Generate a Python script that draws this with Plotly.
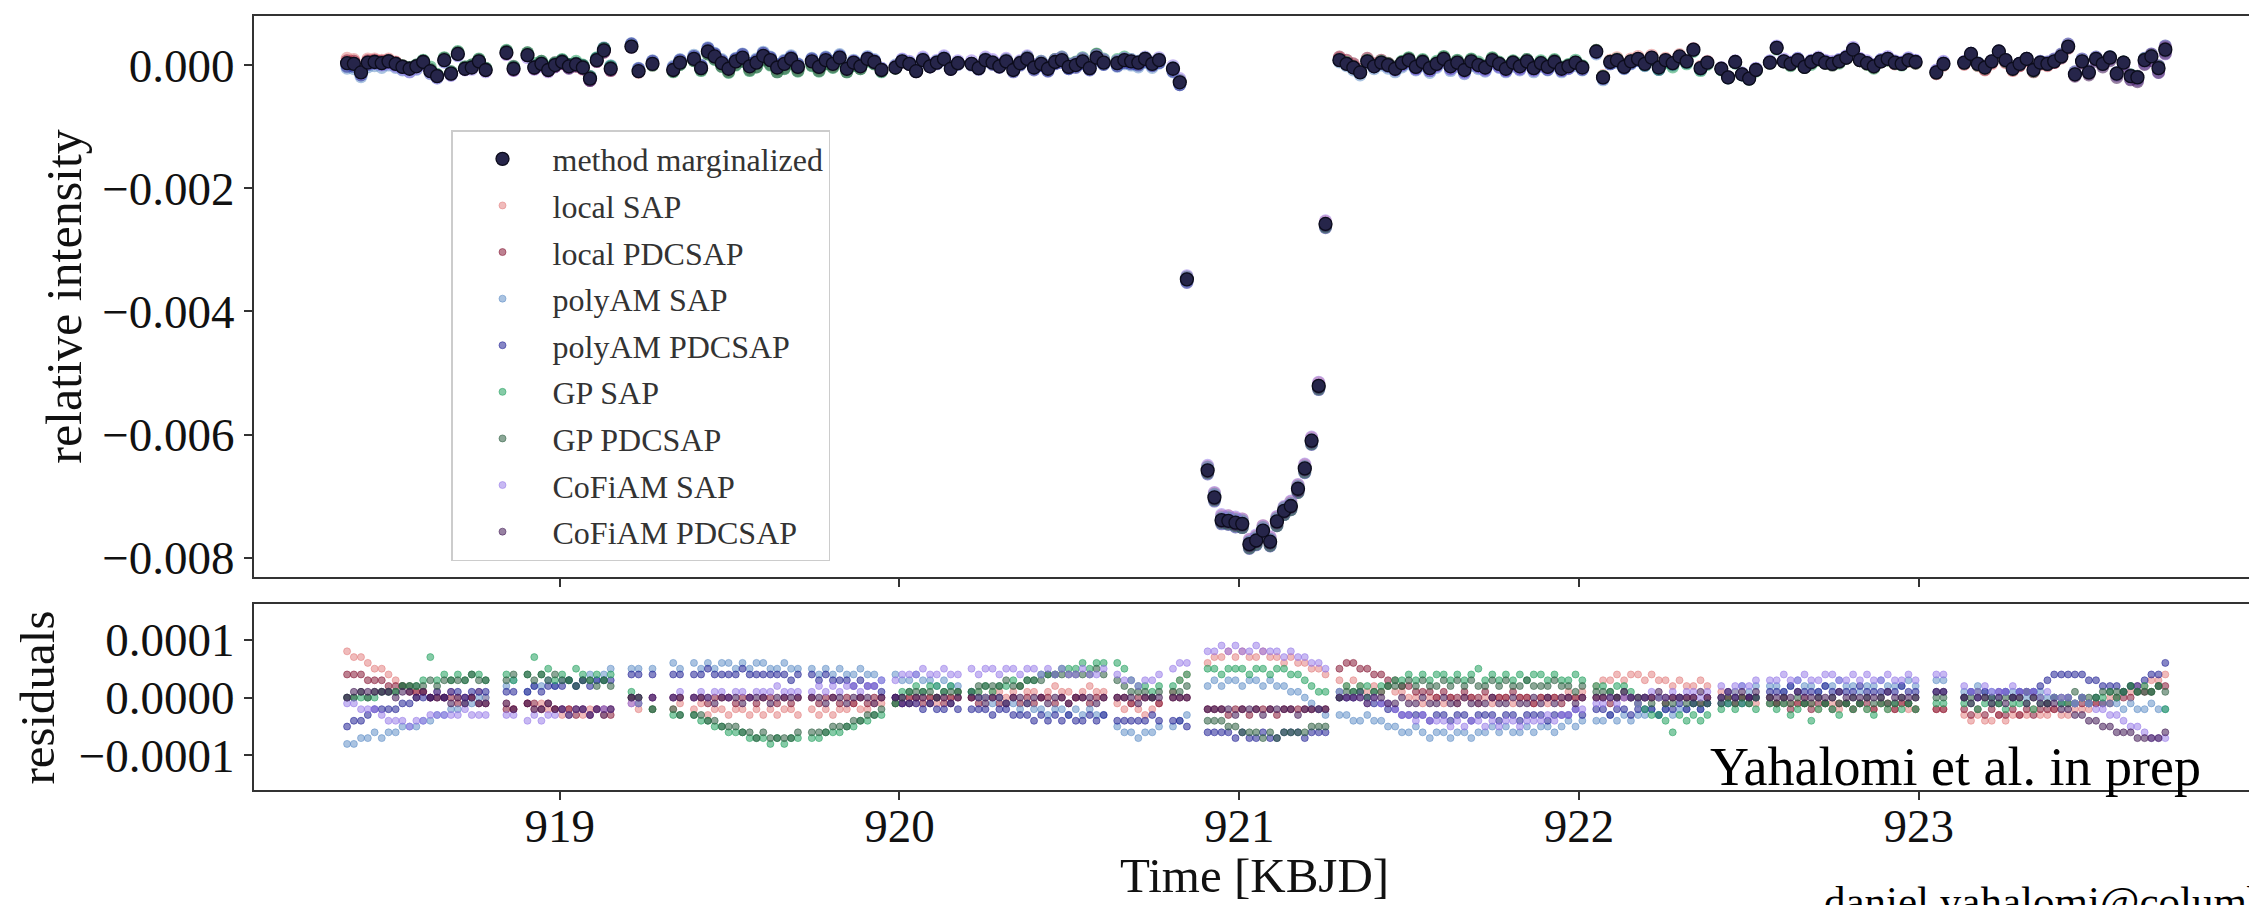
import numpy as np
import plotly.graph_objects as go

# ---------------- data ----------------
# Time stamps [KBJD], grouped into the observing runs visible in the chart
TIME_SEGMENTS = [
    [918.374, 918.394, 918.415, 918.435, 918.455, 918.476, 918.496, 918.517, 918.537, 918.558, 918.578,
     918.598, 918.619, 918.639, 918.660, 918.680, 918.700, 918.721, 918.741, 918.762, 918.782],
    [918.843, 918.864],
    [918.905, 918.925, 918.946, 918.966, 918.986, 919.007, 919.027, 919.048, 919.068, 919.089, 919.109,
     919.130, 919.150],
    [919.211, 919.232],
    [919.273],
    [919.334, 919.354],
    [919.395, 919.416, 919.436, 919.456, 919.477, 919.497, 919.518, 919.538, 919.559, 919.579, 919.599,
     919.620, 919.640, 919.661, 919.681, 919.701],
    [919.742, 919.763, 919.783, 919.804, 919.824, 919.845, 919.865, 919.885, 919.906, 919.926, 919.947],
    [919.988, 920.008, 920.029, 920.049, 920.069, 920.090, 920.110, 920.131, 920.151, 920.172],
    [920.212, 920.233, 920.253, 920.274, 920.294, 920.314, 920.335, 920.355, 920.376, 920.396, 920.417,
     920.437, 920.458, 920.478, 920.498, 920.519, 920.539, 920.560, 920.580, 920.601],
    [920.641, 920.662, 920.682, 920.703, 920.723, 920.744, 920.764],
    [920.805, 920.825, 920.846],
    [920.907, 920.927, 920.948, 920.968, 920.989, 921.009, 921.030, 921.050, 921.070, 921.091, 921.111,
     921.132, 921.152, 921.173, 921.193, 921.213, 921.234, 921.254],
    [921.295, 921.316, 921.336, 921.356, 921.377, 921.397, 921.418, 921.438, 921.459, 921.479, 921.499,
     921.520, 921.540, 921.561, 921.581, 921.602, 921.622, 921.642, 921.663, 921.683, 921.704, 921.724,
     921.745, 921.765, 921.785, 921.806, 921.826, 921.847, 921.867, 921.888, 921.908, 921.928, 921.949,
     921.969, 921.990, 922.010],
    [922.051, 922.071, 922.092, 922.112, 922.133, 922.153, 922.174, 922.194, 922.214, 922.235, 922.255,
     922.276, 922.296, 922.317, 922.337, 922.358, 922.378],
    [922.419, 922.439, 922.460, 922.480, 922.501, 922.521],
    [922.562, 922.582, 922.603, 922.623, 922.644, 922.664, 922.684, 922.705, 922.725, 922.746, 922.766,
     922.787, 922.807, 922.827, 922.848, 922.868, 922.889, 922.909, 922.930, 922.950, 922.970, 922.991],
    [923.052, 923.073],
    [923.134, 923.154, 923.174, 923.195, 923.215, 923.236, 923.256, 923.277, 923.297, 923.318, 923.338,
     923.358, 923.379, 923.399, 923.420, 923.440, 923.460, 923.481, 923.501, 923.522, 923.542, 923.563,
     923.583, 923.603, 923.624, 923.644, 923.665, 923.685, 923.706, 923.726],
]

# method-marginalized relative intensity, units of 1e-5
MARG = [
    [3, 2, -12, 4, 5, 3, 6, 2, -3, -6, -2, 5, -10, -18, 8, -14, 18, -6, -4, 6, -8],
    [20, -6],
    [16, -4, 2, -8, 0, 5, -2, 1, -4, -22, 8, 24, -6],
    [30, -10],
    [2],
    [-8, 4],
    [10, -5, 22, 14, 3, -6, 6, 12, -2, 4, 15, 8, -4, 2, 10, -3],
    [6, -3, 8, 2, 12, -6, 4, -2, 10, 5, -8],
    [-4, 6, 2, -10, 8, -2, 4, 10, -6, 3],
    [2, -5, 8, 4, -2, 6, -8, 3, 10, -4, 2, -6, 5, 8, -3, 0, 6, -5, 12, 4],
    [3, 8, 6, 4, 10, 2, 8],
    [-6, -28, -348],
    [-658, -702, -739, -740, -743, -745, -778, -772, -756, -774, -741, -724, -716, -688, -655, -610, -521, -258],
    [8, 2, -4, -12, 6, -2, 4, 0, -6, 3, 8, -3, 5, -5, 2, 10, -2, 4, -8, 6, 0, -4, 8, 2, -6, 4, -2, 6,
     -5, 3, -3, 5, -6, -2, 4, -4],
    [22, -20, 5, 8, -3, 6, 10, 2, 12, -4, 8, 3, 14, 6, 25, -5, 4],
    [-6, -20, 5, -15, -22, -8],
    [4, 28, 6, 2, 8, -3, 5, 10, 4, 2, 6, 12, 25, 8, 3, -2, 6, 10, 4, 2, 8, 5],
    [-12, 2],
    [4, 18, 2, -4, 6, 22, 8, -6, 2, 10, -8, 4, 2, 6, 14, 30, -15, 6, -12, 10, 2, 12, -14, 4, -18, -20,
     8, 14, -5, 25],
]
MARG_ERR = 0.00005

# residuals (method - marginalized), units of 1e-5
LOCAL_SAP = [
    [8, 7, 7, 6, 5, 5, 4, 3, 2, 2, 1, 1, 0, 1, 0, 1, 0, -1, 0, 1, 0],
    [-1, -2],
    [-1, -2, -1, -2, -2, -3, -2, -2, -3, -2, -2, -3, -2],
    [-1, -2],
    [-2],
    [-2, -1],
    [-2, -1, -3, -2, -2, -3, -2, -2, -3, -2, -3, -2, -3, -2, -2, -3],
    [-2, -3, -2, -3, -2, -2, -1, -2, -2, -1, -1],
    [-1, -1, 0, -1, 0, 0, -1, 0, 0, 1],
    [0, 1, 0, 1, 1, 0, 1, 2, 1, 1, 0, 1, 2, 1, 1, 0, 1, 2, 1, 1],
    [-1, -2, -1, -2, -3, -2, -1],
    [1, 3, 4],
    [6, 7, 7, 8, 7, 8, 7, 7, 8, 7, 7, 6, 7, 6, 6, 5, 5, 4],
    [3, 2, 3, 2, 1, 2, 1, 2, 1, 1, 0, 0, -1, 0, 0, -1, 0, -1, 0, 0, -1, 0, -1, 0, 0, -1, 0, 0, -1, 0,
     -1, 0, 0, 1, 0, 1],
    [2, 3, 3, 4, 3, 4, 4, 3, 4, 3, 3, 2, 3, 2, 2, 3, 2],
    [1, 0, 1, 0, 0, -1],
    [0, -1, 0, -1, -1, 0, -1, -2, -1, -1, -2, -1, -2, -1, -2, -2, -1, -2, -2, -1, -2, -2],
    [-2, -2],
    [-3, -4, -3, -4, -4, -3, -4, -3, -3, -3, -2, -3, -3, -2, -3, -3, -2, -2, -2, -1, -1, 0, 0, 1, 1, 2,
     2, 3, 3, 4],
]
LOCAL_PDCSAP = [
    [4, 4, 4, 3, 3, 3, 2, 2, 2, 1, 1, 1, 0, 0, 0, 0, -1, 0, 0, -1, -1],
    [-2, -2],
    [-1, -1, -2, -1, -2, -2, -2, -3, -2, -3, -2, -2, -3],
    [0, 0],
    [0],
    [0, 0],
    [0, 0, -1, 0, 0, 0, -1, 0, 0, -1, 0, 0, -1, 0, -1, 0],
    [0, -1, 0, 0, -1, 0, -1, 0, -1, 0, 0],
    [0, -1, 0, 0, -1, 0, 0, -1, 0, 0],
    [0, -1, 0, 0, -1, -1, 0, -1, 0, -1, 0, 0, -1, 0, -1, 0, 0, -1, 0, 0],
    [0, 0, -1, 0, 0, 0, -1],
    [0, 0, 0],
    [-2, -2, -2, -3, -2, -2, -3, -2, -2, -2, -3, -2, -2, -2, -2, -2, -2, -2],
    [5, 6, 6, 5, 5, 4, 4, 3, 3, 2, 2, 1, 1, 1, 0, 1, 0, 0, 1, 0, 0, 1, 0, 0, 0, 1, 0, 0, -1, 0, 0, 0,
     -1, 0, 0, 0],
    [0, 0, -1, 0, 0, 0, -1, 0, 0, 0, -1, 0, 0, 0, 0, -1, 0],
    [0, 0, -1, 0, 0, 0],
    [-1, -1, -1, -2, -1, -1, -2, -1, -1, -2, -1, -1, -2, -1, -1, -2, -1, -1, -2, -1, -1, -2],
    [-2, -2],
    [-2, -3, -2, -3, -2, -3, -3, -2, -3, -2, -3, -2, -2, -2, -1, -1, -1, -1, -1, -1, -1, -1, 0, 0, 0,
     1, 1, 1, 2, 2],
]
POLYAM_SAP = [
    [-8, -8, -7, -7, -6, -7, -6, -6, -5, -5, -5, -4, -4, -3, -3, -2, -2, -1, -1, 0, 0],
    [2, 3],
    [1, 2, 2, 3, 2, 3, 3, 2, 3, 4, 3, 4, 5],
    [5, 5],
    [5],
    [6, 5],
    [6, 5, 6, 5, 6, 6, 5, 6, 5, 6, 6, 5, 5, 6, 5, 5],
    [5, 4, 5, 4, 5, 4, 4, 5, 4, 4, 3],
    [4, 3, 3, 4, 3, 3, 2, 3, 2, 2],
    [1, 0, 0, -1, 0, -1, -1, -2, -1, -2, -2, -3, -2, -2, -3, -2, -3, -2, -3, -3],
    [-5, -6, -6, -7, -6, -6, -5],
    [-5, -4, -3],
    [2, 3, 2, 3, 3, 2, 3, 3, 2, 3, 2, 2, 1, 1, 0, -1, -2, -3],
    [-3, -3, -4, -4, -3, -4, -4, -5, -5, -6, -6, -5, -6, -7, -6, -6, -7, -6, -6, -7, -6, -6, -5, -6,
     -5, -6, -6, -5, -6, -5, -5, -6, -5, -4, -5, -4],
    [-4, -4, -3, -4, -3, -4, -3, -3, -2, -3, -2, -3, -2, -2, -1, -2, -1],
    [0, 1, 1, 2, 1, 2],
    [2, 2, 1, 2, 3, 2, 2, 1, 2, 2, 3, 2, 2, 1, 2, 2, 3, 2, 2, 2, 3, 2],
    [3, 3],
    [1, 1, 2, 1, 1, 0, 1, 1, 1, 0, 1, 1, 0, 0, -1, 0, -1, 0, -1, 0, -1, -1, -1, -2, -1, -2, -2, -1,
     -2, -2],
]
POLYAM_PDCSAP = [
    [-5, -4, -4, -3, -2, -2, -2, -2, -1, -1, 0, 0, 0, 1, 0, 1, 1, 0, 1, 1, 1],
    [1, 1],
    [1, 2, 1, 2, 2, 2, 3, 2, 3, 2, 3, 3, 3],
    [4, 4],
    [4],
    [4, 4],
    [4, 4, 5, 4, 4, 4, 4, 5, 4, 4, 4, 4, 4, 4, 3, 4],
    [4, 3, 4, 3, 3, 3, 2, 3, 2, 2, 1],
    [0, -1, -1, -1, -2, -1, -2, -2, -1, -2],
    [-2, -2, -2, -3, -2, -2, -3, -3, -3, -4, -3, -4, -3, -4, -3, -4, -4, -3, -4, -3],
    [-4, -4, -4, -4, -4, -3, -4],
    [-4, -4, -5],
    [-6, -6, -6, -6, -7, -6, -7, -7, -6, -7, -7, -6, -6, -6, -7, -6, -6, -6],
    [0, 0, 0, 1, 0, -1, -1, -2, -2, -3, -3, -3, -3, -4, -3, -3, -4, -3, -3, -4, -3, -3, -3, -4, -3,
     -3, -4, -3, -3, -3, -4, -3, -3, -3, -2, -3],
    [-2, -2, -3, -2, -2, -3, -2, -2, -2, -3, -2, -2, -1, -2, -1, -2, -1],
    [-1, -1, 0, -1, 0, 0],
    [1, 1, 1, 2, 1, 1, 1, 1, 2, 1, 1, 1, 1, 2, 1, 1, 1, 1, 1, 2, 1, 1],
    [1, 1],
    [0, 1, 0, 1, 0, 1, 1, 0, 1, 1, 1, 2, 3, 4, 4, 4, 4, 4, 3, 3, 2, 2, 2, 1, 2, 2, 3, 4, 4, 6],
]
GP_SAP = [
    [0, 0, 0, 0, 0, 1, 1, 1, 2, 2, 2, 3, 7, 3, 4, 3, 4, 3, 4, 4, 3],
    [4, 3],
    [4, 7, 4, 5, 3, 4, 3, 5, 4, 3, 4, 3, 4],
    [1, 0],
    [-2],
    [-3, -3],
    [-3, -4, -4, -5, -5, -6, -6, -6, -7, -7, -7, -8, -7, -8, -7, -7],
    [-7, -7, -6, -6, -6, -5, -5, -4, -4, -3, -3],
    [-1, 1, 1, 2, 1, 2, 2, 1, 2, 1],
    [1, 1, 2, 1, 2, 2, 3, 2, 3, 3, 4, 4, 4, 5, 5, 5, 6, 5, 6, 6],
    [6, 5, 3, 2, 2, 1, 2],
    [2, 3, 4],
    [5, 5, 4, 5, 5, 5, 4, 5, 5, 4, 5, 5, 4, 4, 3, 2, 1, 1],
    [1, 2, 1, 2, 2, 1, 2, 2, 3, 3, 4, 3, 4, 3, 4, 4, 3, 4, 3, 4, 5, 3, 4, 3, 4, 3, 4, 3, 4, 4, 3, 4,
     3, 3, 4, 3],
    [2, 2, 1, 2, 2, 1, -1, -2, -3, -3, -4, -6, -3, -4, -3, -4, -3],
    [-2, -1, -2, -1, -1, -2],
    [-1, -2, -1, -3, -2, -1, -4, -2, -1, -2, -3, -1, -2, -1, -2, -3, -1, -2, -1, -2, -1, -2],
    [-1, -1],
    [-1, -1, -2, -1, -1, -1, -2, -1, -1, -1, -2, -1, -1, 0, -1, -1, -1, 0, -1, 0, 0, 1, 0, 1, 2, 1,
     2, 1, 2, -2],
]
GP_PDCSAP = [
    [0, 0, 1, 0, 1, 1, 1, 1, 2, 2, 2, 2, 3, 2, 3, 3, 3, 3, 4, 3, 3],
    [3, 4],
    [4, 3, 4, 3, 4, 3, 3, 2, 3, 3, 2, 3, 2],
    [0, -1],
    [-2],
    [-2, -3],
    [-3, -3, -4, -4, -5, -5, -5, -6, -6, -7, -6, -7, -7, -7, -7, -6],
    [-6, -6, -6, -5, -5, -5, -4, -4, -3, -3, -2],
    [-1, 0, 1, 1, 1, 1, 0, 1, 1, 1],
    [1, 2, 2, 2, 2, 3, 2, 2, 3, 3, 3, 4, 4, 4, 4, 4, 4, 4, 5, 4],
    [3, 2, 1, 1, 1, 0, 1],
    [1, 1, 2],
    [-4, -4, -4, -5, -5, -6, -6, -6, -7, -6, -7, -6, -6, -6, -6, -5, -5, -5],
    [0, 1, 1, 1, 0, 1, 1, 2, 2, 2, 3, 2, 3, 2, 2, 3, 2, 3, 2, 3, 2, 2, 3, 2, 3, 2, 2, 3, 2, 2, 2, 3,
     2, 2, 1, 2],
    [1, 1, 1, 0, 1, 0, 0, 0, -1, 0, -1, -1, 0, -1, -1, -1, -1],
    [-1, 0, -1, 0, -1, 0],
    [0, -1, 0, -1, 0, -1, -1, 0, -1, 0, -1, -1, 0, -1, 0, -1, 0, -1, -1, 0, -1, 0],
    [0, 0],
    [0, 0, 1, 0, 0, -1, 0, 0, 0, 1, 0, 0, -1, 0, 0, 0, 1, 0, 0, 0, 1, 1, 1, 1, 2, 1, 1, 1, 2, 1],
]
COFIAM_SAP = [
    [-1, -1, -2, -2, -2, -3, -4, -4, -4, -5, -4, -4, -3, -3, -3, -3, -3, -2, -3, -3, -3],
    [-3, -3],
    [-4, -3, -4, -3, -3, -2, -3, -2, -2, -3, -2, -2, -2],
    [-1, -1],
    [0],
    [0, 1],
    [0, 1, 0, 1, 1, 0, 1, 1, 0, 1, 1, 1, 2, 1, 1, 1],
    [1, 2, 1, 2, 1, 2, 2, 1, 2, 2, 3],
    [3, 4, 4, 4, 5, 4, 4, 5, 4, 4],
    [5, 4, 5, 5, 4, 5, 5, 4, 5, 5, 4, 5, 4, 5, 4, 4, 5, 4, 4, 5],
    [4, 3, 3, 2, 3, 3, 4],
    [5, 6, 6],
    [8, 8, 9, 8, 9, 8, 8, 9, 8, 8, 8, 7, 8, 7, 7, 6, 6, 5],
    [1, 0, 0, 0, -1, 0, -1, -1, -2, -3, -3, -4, -3, -4, -4, -4, -5, -4, -5, -4, -4, -5, -4, -5, -4,
     -4, -5, -4, -4, -4, -3, -4, -3, -3, -2, -2],
    [-1, -1, 0, -1, 0, 0, -1, 0, 1, 0, 0, 1, 0, 1, 1, 0, 1],
    [2, 1, 2, 2, 2, 3],
    [3, 3, 4, 3, 3, 4, 3, 3, 4, 4, 3, 3, 4, 3, 4, 3, 3, 4, 3, 3, 4, 3],
    [4, 4],
    [2, 1, 1, 2, 1, 1, 1, 2, 1, 1, 1, 0, 1, 0, 0, 0, -1, 0, -1, -2, -2, -3, -3, -4, -5, -5, -6, -7,
     -7, -7],
]
COFIAM_PDCSAP = [
    [0, 1, 1, 1, 1, 1, 1, 0, 1, 1, 0, 1, 0, 0, 0, -1, 0, -1, 0, -1, -1],
    [-1, -2],
    [-1, -2, -2, -1, -2, -2, -3, -2, -2, -3, -2, -3, -2],
    [0, 0],
    [0],
    [0, 0],
    [0, 0, 0, -1, 0, 0, 0, -1, 0, 0, 0, -1, 0, 0, 0, 0],
    [0, 0, -1, 0, 0, -1, 0, 0, 0, -1, 0],
    [0, 0, -1, 0, 0, -1, 0, 0, -1, 0],
    [0, 0, -1, 0, 0, -1, 0, 0, -1, 0, 0, -1, 0, 0, -1, 0, 0, 0, -1, 0],
    [0, 0, 0, -1, 0, 0, 0],
    [0, 0, 0],
    [-2, -2, -2, -2, -3, -2, -2, -2, -3, -2, -2, -2, -2, -3, -2, -2, -2, -2],
    [0, 0, 0, 0, -1, 0, 0, -1, -1, 0, -1, -1, 0, -1, -1, 0, -1, -1, 0, -1, -1, -1, 0, -1, -1, 0, -1,
     -1, 0, -1, 0, -1, 0, 0, -1, 0],
    [0, 0, 0, 0, 1, 0, 0, 0, 0, 1, 0, 0, 0, 0, 0, 1, 0],
    [0, 1, 0, 1, 0, 1],
    [0, 0, 0, 0, 1, 0, 0, 0, 0, 0, 1, 0, 0, 0, 0, 0, 0, 1, 0, 0, 0, 0],
    [1, 1],
    [0, -1, 0, 0, -1, 0, -1, 0, 0, -1, 0, -1, -1, -1, -2, -2, -3, -3, -4, -4, -5, -5, -6, -6, -6, -7,
     -7, -7, -7, -6],
]

METHOD_NAMES = ["local SAP", "local PDCSAP", "polyAM SAP", "polyAM PDCSAP",
                "GP SAP", "GP PDCSAP", "CoFiAM SAP", "CoFiAM PDCSAP"]
METHOD_RESIDUALS = [LOCAL_SAP, LOCAL_PDCSAP, POLYAM_SAP, POLYAM_PDCSAP,
                    GP_SAP, GP_PDCSAP, COFIAM_SAP, COFIAM_PDCSAP]
METHOD_COLORS = ["rgba(226,120,120,0.5)", "rgba(135,25,55,0.55)", "rgba(85,135,195,0.5)",
                 "rgba(35,35,150,0.55)", "rgba(35,160,95,0.55)", "rgba(45,95,65,0.55)",
                 "rgba(145,115,232,0.5)", "rgba(65,25,85,0.55)"]

X_TICKS = [919, 920, 921, 922, 923]
Y_TICKS_TOP = [0.0, -0.002, -0.004, -0.006, -0.008]
Y_TICKS_RES = [0.0001, 0.0, -0.0001]

# ---------------- helpers ----------------
def flatten(name, segs):
    if len(segs) != len(TIME_SEGMENTS):
        raise ValueError(f"{name}: {len(segs)} segments")
    out = []
    for i, (s, t) in enumerate(zip(segs, TIME_SEGMENTS)):
        if len(s) != len(t):
            raise ValueError(f"{name}: segment {i} has {len(s)} values, expected {len(t)}")
        out.extend(s)
    return np.array(out, dtype=float)

time = np.array([v for seg in TIME_SEGMENTS for v in seg])
marg = flatten("MARG", MARG) * 1e-5
residuals = [flatten(n, r) * 1e-5 for n, r in zip(METHOD_NAMES, METHOD_RESIDUALS)]

FONT = "Liberation Serif"
W, H = 2257, 905

fig = go.Figure()

# top panel: each method's light curve
for name, col, res in zip(METHOD_NAMES, METHOD_COLORS, residuals):
    fig.add_trace(go.Scatter(
        x=time, y=marg + res, mode="markers", xaxis="x", yaxis="y",
        marker=dict(size=13, color=col, line=dict(width=0)),
        name=name, legendgroup=name, showlegend=False, hoverinfo="skip"))

fig.add_trace(go.Scatter(
    x=time, y=marg, mode="markers", xaxis="x", yaxis="y",
    marker=dict(size=13, color="#26254a", line=dict(width=1.3, color="#0c0c1c")),
    error_y=dict(type="constant", value=MARG_ERR, color="black", thickness=1.5, width=0),
    name="method marginalized", legendgroup="marg", legendrank=1))

# bottom panel: residuals
for i, (name, col, res) in enumerate(zip(METHOD_NAMES, METHOD_COLORS, residuals)):
    fig.add_trace(go.Scatter(
        x=time, y=res, mode="markers", xaxis="x2", yaxis="y2",
        marker=dict(size=7, color=col, line=dict(width=1, color=col)),
        name=name, legendgroup=name, legendrank=2 + i, showlegend=True))

axis_common = dict(showline=True, linecolor="#333333", linewidth=2, mirror=True,
                   ticks="outside", ticklen=8, tickwidth=1.5, tickcolor="#333333",
                   showgrid=False, zeroline=False,
                   tickfont=dict(family=FONT, size=47, color="#111111"))

XDOM = [246 / W, 2247 / W]
XR = [918.10, 923.99]

fig.update_layout(
    width=W, height=H, margin=dict(l=0, r=0, t=0, b=0),
    paper_bgcolor="white", plot_bgcolor="white",
    xaxis=dict(domain=XDOM, range=XR, tickvals=X_TICKS, showticklabels=False,
               anchor="y", **axis_common),
    yaxis=dict(domain=[(H - 573) / H, (H - 8) / H], range=[-0.008306, 0.0007976],
               tickvals=Y_TICKS_TOP, tickformat=".3f", anchor="x",
               ticklabelstandoff=0, **axis_common),
    xaxis2=dict(domain=XDOM, range=XR, tickvals=X_TICKS, tickformat="d",
                anchor="y2", ticklabelstandoff=-14, **axis_common),
    yaxis2=dict(domain=[(H - 788) / H, (H - 601) / H], range=[-0.0001595, 0.0001612],
                tickvals=Y_TICKS_RES, tickformat=".4f", anchor="x2",
                ticklabelstandoff=0, **axis_common),
    legend=dict(x=443 / W, y=(H - 123) / H, xanchor="left", yanchor="top",
                bgcolor="rgba(255,255,255,0.85)", bordercolor="#cccccc", borderwidth=1.5,
                font=dict(family=FONT, size=32, color="#333333"),
                tracegroupgap=2, itemwidth=90),
    showlegend=True,
)

ann_font = dict(family=FONT, color="#111111")
fig.add_annotation(text="Time [KBJD]", x=(246 + 2247) / 2 / W, y=(H - 874) / H,
                   xref="paper", yref="paper", showarrow=False, xanchor="center",
                   yanchor="middle", font=dict(size=49, **ann_font))
fig.add_annotation(text="relative intensity", x=56 / W, y=(H - 291) / H,
                   xref="paper", yref="paper", showarrow=False, textangle=-90,
                   xanchor="center", yanchor="middle", font=dict(size=50, **ann_font))
fig.add_annotation(text="residuals", x=30 / W, y=(H - 695) / H,
                   xref="paper", yref="paper", showarrow=False, textangle=-90,
                   xanchor="center", yanchor="middle", font=dict(size=49, **ann_font))
fig.add_annotation(text="Yahalomi et al. in prep", x=2195 / W, y=(H - 765) / H,
                   xref="paper", yref="paper", showarrow=False, xanchor="right",
                   yanchor="middle", font=dict(size=54, color="black", family=FONT))
fig.add_annotation(text="daniel.yahalomi@columbia.edu", x=1814 / W, y=(H - 900) / H,
                   xref="paper", yref="paper", showarrow=False, xanchor="left",
                   yanchor="middle", font=dict(size=43, color="black", family=FONT))

fig.write_html("out.html")
